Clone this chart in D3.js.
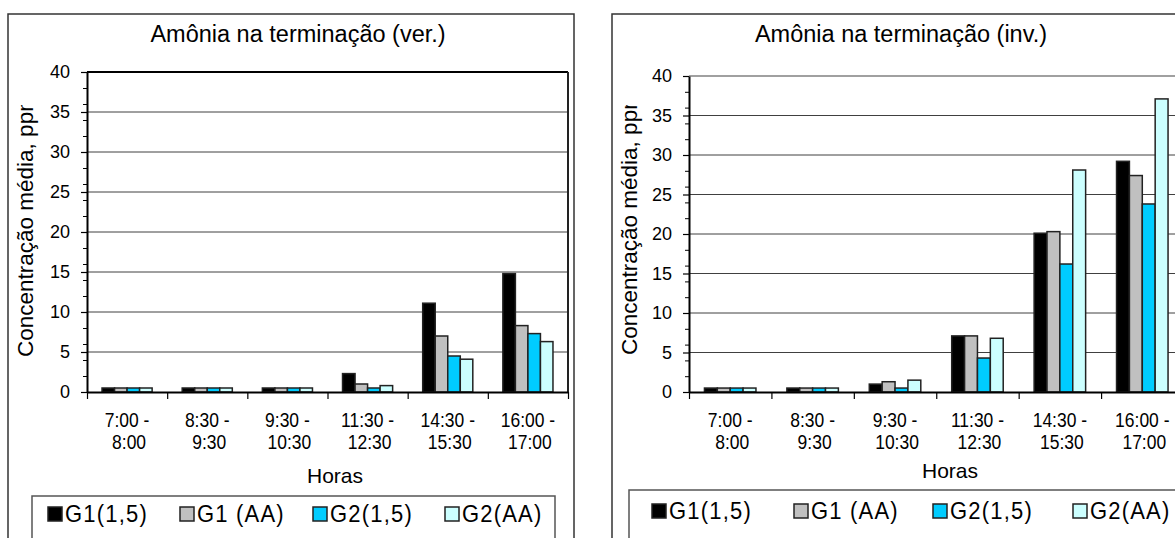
<!DOCTYPE html>
<html>
<head>
<meta charset="utf-8">
<script src="https://cdn.jsdelivr.net/npm/d3@7"></script>
<style>
  body { margin: 0; background: #fff; }
  svg text { font-family: "Liberation Sans", Arial, sans-serif; fill: #000; }
</style>
</head>
<body>
<svg id="chart" width="1175" height="538"></svg>
<script>
// categories (two-line labels) and series
var categories = [["7:00 -", "8:00"], ["8:30 -", "9:30"], ["9:30 -", "10:30"],
                  ["11:30 -", "12:30"], ["14:30 -", "15:30"], ["16:00 -", "17:00"]];
var seriesNames = ["G1(1,5)", "G1 (AA)", "G2(1,5)", "G2(AA)"];
var seriesColors = ["#000000", "#c0c0c0", "#00ccff", "#ccffff"];

// summer (ver.)
var verG1_15 = [0.5, 0.5, 0.5, 2.3, 11.1, 14.8];
var verG1_AA = [0.5, 0.5, 0.5, 1.0, 7.0, 8.3];
var verG2_15 = [0.5, 0.5, 0.5, 0.5, 4.5, 7.3];
var verG2_AA = [0.5, 0.5, 0.5, 0.8, 4.1, 6.3];

// winter (inv.)
var invG1_15 = [0.5, 0.5, 1.0, 7.1, 20.1, 29.2];
var invG1_AA = [0.5, 0.5, 1.3, 7.1, 20.3, 27.4];
var invG2_15 = [0.5, 0.5, 0.5, 4.3, 16.2, 23.8];
var invG2_AA = [0.5, 0.5, 1.5, 6.8, 28.1, 37.1];

var yTicks = [0, 5, 10, 15, 20, 25, 30, 35, 40];
var yMinorTicks = [2, 4, 6, 8, 12, 14, 16, 18, 22, 24, 26, 28, 32, 34, 36, 38];

var svg = d3.select("#chart");

function drawChart(o) {
    var g = svg.append("g");

    // outer chart frame
    g.append("rect")
        .attr("x", o.frame[0]).attr("y", o.frame[1])
        .attr("width", o.frame[2]).attr("height", o.frame[3])
        .attr("fill", "#fff").attr("stroke", "#333").attr("stroke-width", 1.5);

    g.append("text")
        .attr("x", o.titleX).attr("y", 42)
        .attr("text-anchor", "middle")
        .style("font-size", "23.5px")
        .text(o.title);

    var x = d3.scaleBand().domain(d3.range(categories.length)).range([o.left, o.right]);
    var xEdge = d3.scaleLinear().domain([0, categories.length]).range([o.left, o.right]);
    var y = d3.scaleLinear().domain([0, 40]).range([o.bottom, o.top]);
    var bw = x.bandwidth();
    var xs = d3.scaleBand().domain(d3.range(seriesNames.length))
        .range([bw * 0.1875, bw * 0.8125]);

    // gridlines
    g.append("g").selectAll("line")
        .data(yTicks.filter(function(t) { return t > 0 && t < 40; }))
        .join("line")
        .attr("x1", o.left).attr("x2", o.right)
        .attr("y1", function(d) { return y(d); })
        .attr("y2", function(d) { return y(d); })
        .attr("stroke", "#404040").attr("stroke-width", 1);

    // top border of plot
    g.append("line")
        .attr("x1", o.left).attr("x2", o.right)
        .attr("y1", y(40)).attr("y2", y(40))
        .attr("stroke", o.topColor).attr("stroke-width", o.topWidth);
    if (o.rightBorder) {
        g.append("line")
            .attr("x1", o.right).attr("x2", o.right)
            .attr("y1", y(40)).attr("y2", y(0))
            .attr("stroke", "#222").attr("stroke-width", 2);
    }

    // bars
    var groups = g.append("g").selectAll("g")
        .data(categories.map(function(c, i) { return i; }))
        .join("g")
        .attr("transform", function(i) { return "translate(" + x(i) + ",0)"; });
    groups.selectAll("rect")
        .data(function(i) { return o.series.map(function(s, k) { return { k: k, v: s[i] }; }); })
        .join("rect")
        .attr("x", function(d) { return xs(d.k); })
        .attr("width", xs.bandwidth())
        .attr("y", function(d) { return y(d.v); })
        .attr("height", function(d) { return y(0) - y(d.v); })
        .attr("fill", function(d) { return seriesColors[d.k]; })
        .attr("stroke", "#222").attr("stroke-width", 1.5);

    // y axis
    var yAxis = g.append("g")
        .attr("transform", "translate(" + o.left + ",0)")
        .call(d3.axisLeft(y).tickValues(yTicks).tickSize(6).tickSizeOuter(0).tickPadding(11));
    yAxis.selectAll("text").style("font-size", "18px");
    g.append("g")
        .attr("transform", "translate(" + o.left + ",0)")
        .call(d3.axisLeft(y).tickValues(yMinorTicks).tickSize(4).tickSizeOuter(0).tickFormat(""))
        .select(".domain").remove();
    yAxis.select(".domain").attr("stroke", "#000").attr("stroke-width", 2);
    yAxis.selectAll(".tick line").attr("stroke", "#000").attr("stroke-width", 1.2);

    // x axis with ticks at category boundaries
    var xAxis = g.append("g")
        .attr("transform", "translate(0," + o.bottom + ")")
        .call(d3.axisBottom(xEdge).tickValues(d3.range(categories.length + 1))
            .tickSize(7).tickSizeOuter(0).tickFormat(""));
    xAxis.select(".domain").attr("stroke", "#000").attr("stroke-width", 2);
    xAxis.selectAll(".tick line").attr("stroke", "#000").attr("stroke-width", 1.2);

    // category labels, slightly tall glyphs as in the original
    var labels = g.append("g").selectAll("g")
        .data(categories)
        .join("g");
    labels.append("text")
        .attr("transform", function(d, i) {
            return "translate(" + (x(i) + bw / 2) + "," + (o.bottom + 35) + ") scale(1,1.15)";
        })
        .attr("text-anchor", "middle")
        .style("font-size", "17.5px")
        .text(function(d) { return d[0]; });
    labels.append("text")
        .attr("transform", function(d, i) {
            return "translate(" + (x(i) + bw / 2 + 2) + "," + (o.bottom + 57) + ") scale(1,1.15)";
        })
        .attr("text-anchor", "middle")
        .style("font-size", "17.5px")
        .text(function(d) { return d[1]; });

    g.append("text")
        .attr("x", o.horasX).attr("y", o.horasY)
        .attr("text-anchor", "middle")
        .style("font-size", "21px")
        .text("Horas");

    // y axis title, clipped at the top like the original
    svg.append("clipPath").attr("id", "clip" + o.id)
        .append("rect")
        .attr("x", o.frame[0]).attr("y", 105)
        .attr("width", 60).attr("height", 400);
    g.append("g").attr("clip-path", "url(#clip" + o.id + ")")
        .append("text")
        .attr("transform", "translate(" + o.yLabelX + "," + o.yLabelY + ") rotate(-90)")
        .style("font-size", "22.5px")
        .text("Concentração média, ppm");

    // legend
    var lg = g.append("g");
    lg.append("rect")
        .attr("x", o.legend[0]).attr("y", o.legend[1])
        .attr("width", o.legend[2]).attr("height", o.legend[3])
        .attr("fill", "#fff").attr("stroke", "#555").attr("stroke-width", 1.5);
    var items = lg.selectAll("g.item")
        .data(seriesNames)
        .join("g").attr("class", "item");
    items.append("rect")
        .attr("x", function(d, i) { return o.legendX[i]; })
        .attr("y", o.legendSqY)
        .attr("width", 14).attr("height", 14)
        .attr("fill", function(d, i) { return seriesColors[i]; })
        .attr("stroke", "#222").attr("stroke-width", 1.5);
    items.append("text")
        .attr("transform", function(d, i) {
            return "translate(" + (o.legendX[i] + 17) + "," + (o.legendSqY + 15) + ") scale(1,1.1)";
        })
        .style("font-size", "22px")
        .style("letter-spacing", "1.2px")
        .text(function(d) { return d; });
}

drawChart({
    id: "ver",
    title: "Amônia na terminação (ver.)",
    frame: [8, 14, 566, 540],
    titleX: 298,
    left: 87, right: 568, top: 72, bottom: 392,
    topColor: "#000", topWidth: 2, rightBorder: true,
    series: [verG1_15, verG1_AA, verG2_15, verG2_AA],
    horasX: 335, horasY: 483,
    yLabelX: 33, yLabelY: 357,
    legend: [32, 496, 523, 44],
    legendX: [48, 180, 313, 445],
    legendSqY: 507
});

drawChart({
    id: "inv",
    title: "Amônia na terminação (inv.)",
    frame: [612, 14, 590, 540],
    titleX: 901,
    left: 689, right: 1183.5, top: 76, bottom: 392,
    topColor: "#808080", topWidth: 1.5, rightBorder: false,
    series: [invG1_15, invG1_AA, invG2_15, invG2_AA],
    horasX: 950, horasY: 478,
    yLabelX: 637, yLabelY: 355,
    legend: [629, 490, 580, 50],
    legendX: [652, 794, 933, 1073],
    legendSqY: 504
});
</script>
</body>
</html>
